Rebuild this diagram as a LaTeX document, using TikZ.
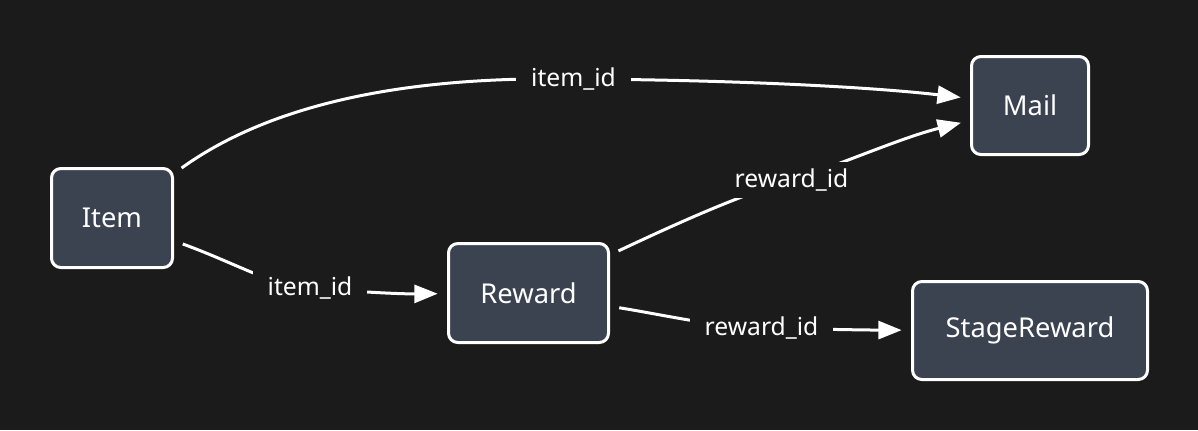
\documentclass[tikz,border=0pt]{standalone}
\usepackage{fontspec}
\setmainfont{Noto Sans}
\usetikzlibrary{arrows.meta}
\definecolor{bg}{HTML}{1B1B1B}
\definecolor{nodefill}{HTML}{3B4351}
\begin{document}
\begin{tikzpicture}[x=0.75pt,y=-0.75pt,
  box/.style={draw=white, line width=2.25pt, fill=nodefill, rounded corners=7pt, text=white, font=\fontsize{20.5}{24}\selectfont, inner sep=0pt},
  edge/.style={draw=white, line width=2.25pt, shorten <=7pt},
  arr/.style={-{Triangle[length=17.5pt,width=13.5pt]}, shorten >=7pt},
  lbl/.style={fill=bg, text=white, font=\fontsize{18.5}{22}\selectfont, inner xsep=11pt, inner ysep=5pt}]
\fill[bg] (0,0) rectangle (1198,430);
\node[box, minimum width=90.75pt, minimum height=74.25pt] (Item) at (112,218) {Item};
\node[box, minimum width=87.75pt, minimum height=73.5pt] (Mail) at (1030,105.5) {Mail};
\node[box, minimum width=120pt, minimum height=74.25pt] (Reward) at (528.5,293) {Reward};
\node[box, minimum width=176.25pt, minimum height=73.5pt] (StageReward) at (1030,330.5) {StageReward};
\coordinate (l1) at (573.5,79);
\coordinate (l2) at (310,288);
\coordinate (l3) at (791.5,180);
\coordinate (l4) at (761.5,328);
\draw[edge,arr] (Item) .. controls (290,90) and (450,77) .. (l1) .. controls (750,80) and (880,88) .. (Mail);
\draw[edge,arr] (Item) .. controls (240,265) and (270,285) .. (l2) .. controls (360,292) and (400,294) .. (Reward);
\draw[edge,arr] (Reward) .. controls (680,222) and (740,195) .. (l3) .. controls (840,165) and (900,138) .. (Mail);
\draw[edge,arr] (Reward) .. controls (670,316) and (710,326) .. (l4) .. controls (810,329) and (860,330) .. (StageReward);
\node[lbl] (lab1) at (l1) {item\_id};
\node[lbl] (lab2) at (l2) {item\_id};
\node[lbl] (lab3) at (l3) {reward\_id};
\node[lbl] (lab4) at (l4) {reward\_id};
\end{tikzpicture}
\end{document}
